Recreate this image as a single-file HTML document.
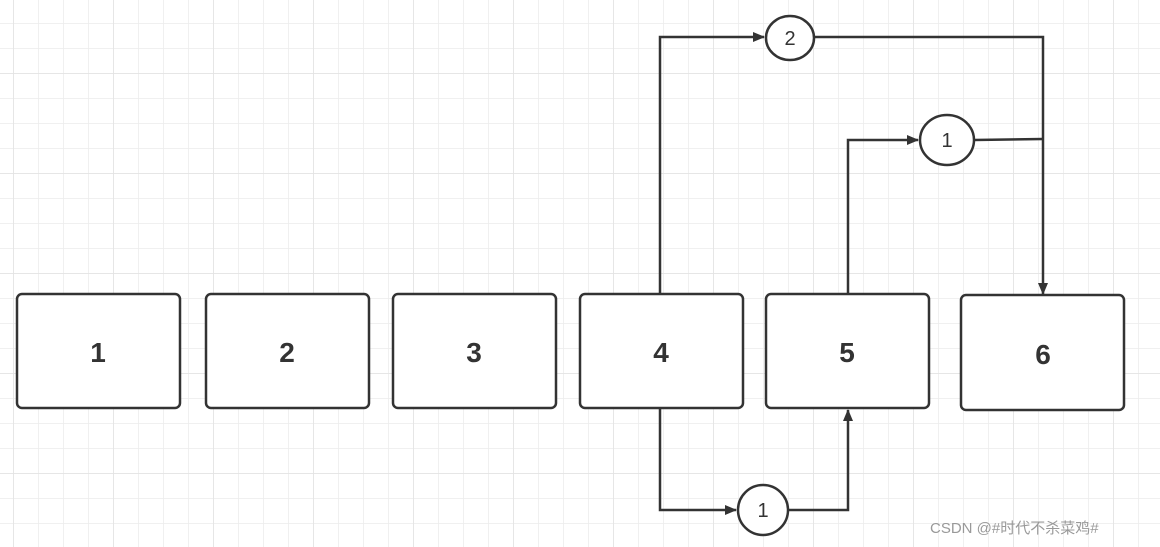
<!DOCTYPE html>
<html><head><meta charset="utf-8"><style>
html,body{margin:0;padding:0;background:#fff}
svg{display:block}
</style></head><body>
<svg width="1160" height="547" xmlns="http://www.w3.org/2000/svg">
<defs>
<pattern id="g" x="13" y="23" width="25" height="25" patternUnits="userSpaceOnUse">
<path d="M0 0H25M0 0V25" stroke="#ececec" stroke-width="1.5" fill="none"/>
</pattern>
<pattern id="G" x="13" y="73" width="100" height="100" patternUnits="userSpaceOnUse">
<path d="M0 0H100M0 0V100" stroke="#e2e2e2" stroke-width="1.5" fill="none"/>
</pattern>
<marker id="a" markerWidth="12" markerHeight="10" refX="11" refY="5" orient="auto" markerUnits="userSpaceOnUse">
<path d="M0 0L12 5L0 10Z" fill="#333"/>
</marker>
</defs>
<rect width="1160" height="547" fill="url(#g)"/>
<rect width="1160" height="547" fill="url(#G)"/>
<g fill="#fff" stroke="#333" stroke-width="2.5">
<rect x="17" y="294" width="163" height="114" rx="5"/>
<rect x="206" y="294" width="163" height="114" rx="5"/>
<rect x="393" y="294" width="163" height="114" rx="5"/>
<rect x="580" y="294" width="163" height="114" rx="5"/>
<rect x="766" y="294" width="163" height="114" rx="5"/>
<rect x="961" y="295" width="163" height="115" rx="5"/>
</g>
<g font-family="Liberation Sans, sans-serif" font-weight="bold" font-size="28" fill="#333" text-anchor="middle">
<text x="98" y="362">1</text><text x="287" y="362">2</text><text x="474" y="362">3</text>
<text x="661" y="362">4</text><text x="847" y="362">5</text><text x="1043" y="364">6</text>
</g>
<g fill="none" stroke="#333" stroke-width="2.5">
<path d="M660 294V37H764" marker-end="url(#a)"/>
<path d="M814 37H1043V294" marker-end="url(#a)"/>
<path d="M848 294V140H918" marker-end="url(#a)"/>
<path d="M974 140L1043 139"/>
<path d="M660 408V510H736" marker-end="url(#a)"/>
<path d="M789 510H848V410" marker-end="url(#a)"/>
</g>
<g fill="#fff" stroke="#333" stroke-width="2.5">
<ellipse cx="790" cy="38" rx="24" ry="22"/>
<ellipse cx="947" cy="140" rx="27" ry="25"/>
<ellipse cx="763" cy="510" rx="25" ry="25"/>
</g>
<g font-family="Liberation Sans, sans-serif" font-size="20" fill="#333" text-anchor="middle">
<text x="790" y="45">2</text><text x="947" y="147">1</text><text x="763" y="517">1</text>
</g>
<text x="930" y="533" font-family="Liberation Sans, 'Noto Sans CJK SC', sans-serif" font-size="15" fill="#999">CSDN @#时代不杀菜鸡#</text>
</svg>
</body></html>
